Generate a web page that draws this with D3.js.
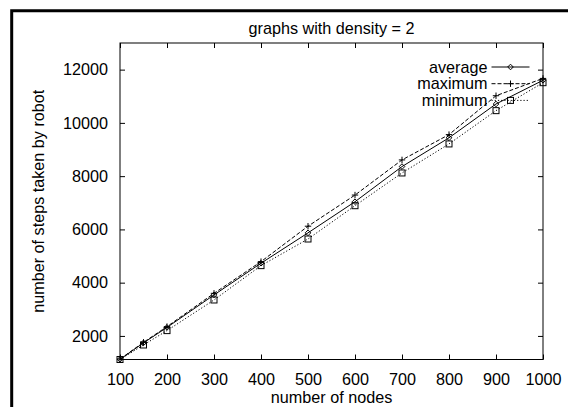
<!DOCTYPE html>
<html><head><meta charset="utf-8">
<script src="https://cdn.jsdelivr.net/npm/d3@7"></script>
<style>
html,body{margin:0;padding:0;background:#fff;}
svg text{font-family:"Liberation Sans",Arial,sans-serif;fill:#000;}
</style></head>
<body>
<svg id="chart" width="568" height="407"></svg>
<script>
const nodes = [100,150,200,300,400,500,600,700,800,900,1000];
const averageSteps = [1120,1740,2320,3540,4730,5870,7040,8360,9440,10710,11600];
const maximumSteps = [1130,1760,2350,3600,4790,6120,7290,8610,9560,11020,11670];
const minimumSteps = [1115,1660,2200,3350,4640,5640,6890,8120,9210,10460,11510];
const xTicks = [100,200,300,400,500,600,700,800,900,1000];
const yTicks = [2000,4000,6000,8000,10000,12000];
const seriesNames = ["average","maximum","minimum"];
const titleText = "graphs with density = 2";
const xLabel = "number of nodes";
const yLabel = "number of steps taken by robot";

const svg = d3.select("#chart");
const L=120, R=543, T=43, B=359.5;
const x = d3.scaleLinear().domain([100,1000]).range([L,R]);
const y = d3.scaleLinear().domain([1115,13000]).range([B,T]);

// outer frame (cropped border)
svg.append("path").attr("d","M11.7,420 V10.8 H580").attr("fill","none").attr("stroke","#000").attr("stroke-width",3);

// plot frame
svg.append("rect").attr("x",L).attr("y",T).attr("width",R-L).attr("height",B-T)
  .attr("fill","none").attr("stroke","#000").attr("stroke-width",1);

const fs = 16.2;
// axes ticks (inner, mirrored)
const gb = svg.append("g").attr("transform",`translate(0,${B})`)
  .call(d3.axisBottom(x).tickValues(xTicks).tickSize(-5).tickFormat(d3.format("d")));
const gt = svg.append("g").attr("transform",`translate(0,${T})`)
  .call(d3.axisTop(x).tickValues(xTicks).tickSize(-5).tickFormat(""));
const gl = svg.append("g").attr("transform",`translate(${L},0)`)
  .call(d3.axisLeft(y).tickValues(yTicks).tickSize(-5).tickPadding(12).tickFormat(d3.format("d")));
const gr = svg.append("g").attr("transform",`translate(${R},0)`)
  .call(d3.axisRight(y).tickValues(yTicks).tickSize(-5).tickFormat(""));
[gb,gt,gl,gr].forEach(g=>{
  g.select(".domain").remove();
  g.selectAll("line").attr("stroke","#000");
  g.selectAll("text").attr("font-size",fs).attr("font-family","Liberation Sans, Arial, sans-serif");
});
gb.selectAll("text").attr("y",25).attr("dy",null);

// titles
svg.append("text").attr("x",(L+R)/2).attr("y",34).attr("text-anchor","middle").attr("font-size",fs).text(titleText);
svg.append("text").attr("x",(L+R)/2).attr("y",403).attr("text-anchor","middle").attr("font-size",fs).text(xLabel);
svg.append("text").attr("transform",`translate(44,${(T+B)/2}) rotate(-90)`).attr("text-anchor","middle").attr("font-size",fs).text(yLabel);

const styles = {
  average:{data:averageSteps, dash:null, marker:"diamond"},
  maximum:{data:maximumSteps, dash:"4,2", marker:"plus"},
  minimum:{data:minimumSteps, dash:"1.2,2", marker:"square"}
};
function drawMarker(g, type, cx, cy){
  if(type==="diamond"){
    g.append("path").attr("d",`M${cx},${cy-2.8}L${cx+2.8},${cy}L${cx},${cy+2.8}L${cx-2.8},${cy}Z`)
      .attr("fill","none").attr("stroke","#000").attr("stroke-width",1);
  } else if(type==="plus"){
    g.append("path").attr("d",`M${cx-3.2},${cy}H${cx+3.2}M${cx},${cy-3.2}V${cy+3.2}`)
      .attr("fill","none").attr("stroke","#000").attr("stroke-width",1);
  } else {
    g.append("rect").attr("x",cx-3).attr("y",cy-3).attr("width",6).attr("height",6)
      .attr("fill","none").attr("stroke","#000").attr("stroke-width",1);
  }
}
const line = d3.line().x((d,i)=>x(nodes[i])).y(d=>y(d));
seriesNames.forEach(name=>{
  const s = styles[name];
  const g = svg.append("g");
  g.append("path").attr("d",line(s.data)).attr("fill","none").attr("stroke","#000")
    .attr("stroke-width",1).attr("stroke-dasharray",s.dash);
  s.data.forEach((v,i)=>drawMarker(g,s.marker,x(nodes[i]),y(v)));
});

// legend
const legX1=491.5, legX2=529.5, legText=487.5, legY0=67, legDY=16.7;
seriesNames.forEach((name,i)=>{
  const s = styles[name];
  const ly = legY0 + i*legDY;
  svg.append("text").attr("x",legText).attr("y",ly).attr("dy","0.35em").attr("text-anchor","end").attr("font-size",fs).text(name);
  const g = svg.append("g");
  g.append("line").attr("x1",legX1).attr("x2",legX2).attr("y1",ly).attr("y2",ly)
    .attr("stroke","#000").attr("stroke-width",1).attr("stroke-dasharray",s.dash);
  drawMarker(g,s.marker,(legX1+legX2)/2,ly);
});
</script>
</body></html>
